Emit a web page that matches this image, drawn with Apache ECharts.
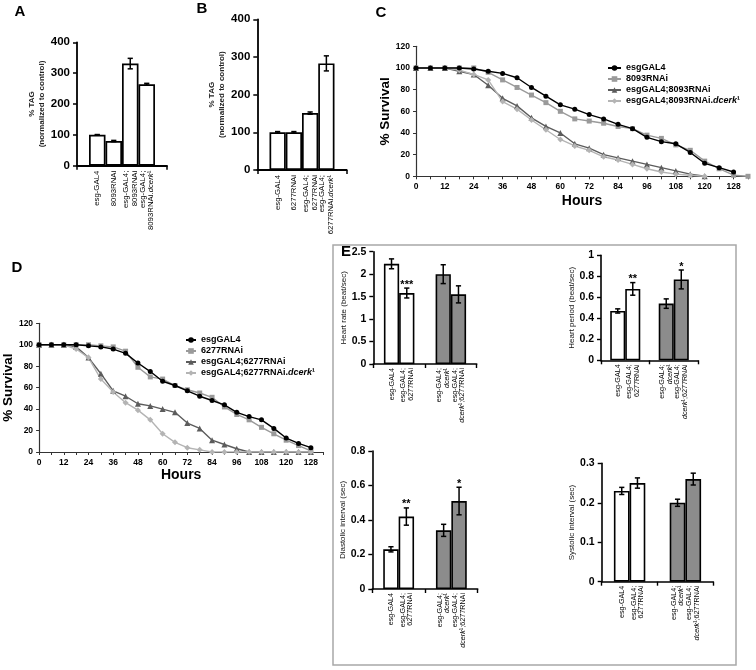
<!DOCTYPE html>
<html><head><meta charset="utf-8">
<script src="https://cdn.jsdelivr.net/npm/echarts@6/dist/echarts.min.js"></script>
<style>html,body{margin:0;padding:0;background:#fff}#c{width:756px;height:670px}</style>
</head><body><div id="c"></div><script>
const FONT = '"Liberation Sans", Arial, Helvetica, sans-serif';

// ---------- Panel A / B : % TAG ----------
const tagLabelsA = ['esg-GAL4', '8093RNAi', 'esg-GAL4;\n8093RNAi', 'esg-GAL4;\n8093RNAi.{i|dcerk}¹'];
const tagValuesA = [100, 80, 331, 264];
const tagErrorsA = [1, 2, 17, 3];
const tagLabelsB = ['esg-GAL4', '6277RNAi', 'esg-GAL4;\n6277RNAi', 'esg-GAL4;\n6277RNAi.{i|dcerk}¹'];
const tagValuesB = [100, 100, 151, 283];
const tagErrorsB = [2, 2, 3, 20];
const tagYTicks = [0, 100, 200, 300, 400];

// ---------- Panel C / D : survival ----------
const survivalHours = ['0','6','12','18','24','30','36','42','48','54','60','66','72','78','84','90','96','102','108','114','120','124','128','132'];
const survivalYTicks = [0, 20, 40, 60, 80, 100, 120];
const survivalNamesC = ['esgGAL4', '8093RNAi', 'esgGAL4;8093RNAi', 'esgGAL4;8093RNAi.dcerk¹'];
const cEsgGAL4   = [100,100,100,100,99,97,95,91,82,74,66,62,57,53,48,44,36,32,30,22,12,8,4,null];
const c8093RNAi  = [100,100,100,100,100,96,89,82,75,68,60,53,51,49,46,44,38,35,29,24,14,7,1,0];
const cEsg8093   = [100,100,100,97,94,84,72,65,54,46,40,30,26,20,17,14,11,8,5,2,0,null,null,null];
const cEsg8093Dc = [100,100,100,98,94,89,69,62,52,43,34,28,24,18,15,11,7,4,2,1,0,null,null,null];
const survivalNamesD = ['esgGAL4', '6277RNAi', 'esgGAL4;6277RNAi', 'esgGAL4;6277RNAi.dcerk¹'];
const dEsgGAL4   = [100,100,100,100,99,98,96,92,83,75,66,62,57,52,48,44,37,33,30,22,13,8,4,null];
const d6277RNAi  = [100,100,100,100,100,99,98,94,79,70,68,62,58,55,51,42,35,30,23,17,11,6,1,null];
const dEsg6277   = [100,100,100,98,88,73,57,52,45,43,40,37,27,22,11,7,3,0,0,0,0,0,0,null];
const dEsg6277Dc = [100,100,100,96,88,68,56,46,39,30,17,9,4,2,0,0,0,0,0,0,0,0,0,null];

// ---------- Panel E : heart ----------
const heartLabels = ['esg-GAL4', 'esg-GAL4;\n6277RNAi', 'esg-GAL4;\n{i|dcerk}¹', 'esg-GAL4;\n{i|dcerk}¹;6277RNAi'];
const heartRate = [2.23, 1.58, 2.0, 1.55];
const heartRateErr = [0.11, 0.11, 0.21, 0.19];
const heartRateSig = ['', '***', '', ''];
const heartRateTicks = [0, 0.5, 1, 1.5, 2, 2.5];
const heartPeriod = [0.47, 0.68, 0.54, 0.77];
const heartPeriodErr = [0.02, 0.06, 0.045, 0.09];
const heartPeriodSig = ['', '**', '', '*'];
const heartPeriodTicks = [0, 0.2, 0.4, 0.6, 0.8, 1];
const diastolic = [0.23, 0.42, 0.34, 0.51];
const diastolicErr = [0.015, 0.05, 0.035, 0.08];
const diastolicSig = ['', '**', '', '*'];
const diastolicTicks = [0, 0.2, 0.4, 0.6, 0.8];
const systolic = [0.23, 0.25, 0.20, 0.26];
const systolicErr = [0.009, 0.013, 0.009, 0.015];
const systolicSig = ['', '', '', ''];
const systolicTicks = [0, 0.1, 0.2, 0.3];

// ---------- build ----------
const grids = [], xAxes = [], yAxes = [], series = [], legends = [];
const BLACK = '#000';
const groupFill = ['#ffffff', '#8c8c8c'];

function errorSeries(gi, nPerCat, gapRatio, items, lw) {
  return {
    type: 'custom', xAxisIndex: gi, yAxisIndex: gi, silent: true, z: 5, animation: false,
    data: items.map(it => [it[0], it[1], it[2] - it[3], it[2] + it[3]]),
    renderItem(params, api) {
      const cat = api.value(0), pos = api.value(1);
      const band = api.size([1, 0])[0];
      const bw = band * (1 - gapRatio) / nPerCat;
      const x = api.coord([cat, 0])[0] + (pos - (nPerCat - 1) / 2) * bw;
      const y1 = api.coord([cat, api.value(2)])[1];
      const y2 = api.coord([cat, api.value(3)])[1];
      const cap = 2.6;
      const st = { stroke: BLACK, lineWidth: lw || 1.4 };
      const ch = [
        { type: 'line', shape: { x1: x, y1: y1, x2: x, y2: y2 }, style: st },
        { type: 'line', shape: { x1: x - cap, y1: y1, x2: x + cap, y2: y1 }, style: st },
        { type: 'line', shape: { x1: x - cap, y1: y2, x2: x + cap, y2: y2 }, style: st }
      ];
      const sig = items[params.dataIndex][4];
      if (sig) ch.push({ type: 'text', x: x, y: y2 + 2, style: { text: sig, font: 'bold 11px ' + FONT, fill: BLACK, align: 'center', verticalAlign: 'bottom', textAlign: 'center', textVerticalAlign: 'bottom' } });
      return { type: 'group', children: ch };
    }
  };
}

function barLabel(fmt, size, lh, dist) {
  return {
    show: true, position: 'bottom', distance: dist, rotate: 90, align: 'right', verticalAlign: 'middle',
    formatter: fmt, fontFamily: FONT, fontSize: size, lineHeight: lh, color: BLACK,
    rich: { i: { fontStyle: 'italic', fontFamily: FONT, fontSize: size, lineHeight: lh, color: BLACK } }
  };
}

function tagPanel(box, labels, values, errors, gapRatio) {
  const gi = grids.length;
  grids.push({ left: box[0], top: box[1], width: box[2], height: box[3] });
  xAxes.push({ gridIndex: gi, type: 'category', data: ['all'],
    axisLine: { lineStyle: { color: BLACK, width: 1.8 } },
    axisTick: { show: true, length: 4, lineStyle: { color: BLACK, width: 1.5 } },
    axisLabel: { show: false } });
  yAxes.push({ gridIndex: gi, type: 'value', min: tagYTicks[0], max: tagYTicks[tagYTicks.length - 1], interval: tagYTicks[1] - tagYTicks[0],
    axisLine: { show: true, lineStyle: { color: BLACK, width: 1.8 } },
    axisTick: { show: true, length: 4, lineStyle: { color: BLACK, width: 1.5 } },
    axisLabel: { fontFamily: FONT, fontWeight: 'bold', fontSize: 11.5, color: BLACK, margin: 7 },
    splitLine: { show: false },
    name: '% TAG\n(normalized to control)', nameLocation: 'middle', nameGap: 23,
    nameTextStyle: { fontFamily: FONT, fontWeight: 'bold', fontSize: 8, lineHeight: 10, color: '#222' } });
  values.forEach((v, i) => {
    series.push({ type: 'bar', xAxisIndex: gi, yAxisIndex: gi, data: [v], barGap: '0%', barCategoryGap: (gapRatio * 100) + '%',
      itemStyle: { color: '#fff', borderColor: BLACK, borderWidth: 1.7 }, silent: true, animation: false,
      label: barLabel(labels[i], 7.8, 8.5, 5) });
  });
  series.push(errorSeries(gi, values.length, gapRatio, values.map((v, i) => [0, i, v, errors[i], '']), 1.5));
}

function survivalPanel(box, names, datasets, legendPos, yGap, xGap) {
  const gi = grids.length;
  grids.push({ left: box[0], top: box[1], width: box[2], height: box[3] });
  xAxes.push({ gridIndex: gi, type: 'category', data: survivalHours, boundaryGap: false,
    axisLine: { lineStyle: { color: '#333', width: 1.2 } },
    axisTick: { show: true, interval: 0, length: 3, lineStyle: { color: '#333', width: 1 } },
    axisLabel: { interval: 1, fontFamily: FONT, fontWeight: 'bold', fontSize: 8.5, color: BLACK, margin: 6 },
    name: 'Hours', nameLocation: 'middle', nameGap: xGap,
    nameTextStyle: { fontFamily: FONT, fontWeight: 'bold', fontSize: 14, color: BLACK } });
  yAxes.push({ gridIndex: gi, type: 'value', min: survivalYTicks[0], max: survivalYTicks[survivalYTicks.length - 1], interval: survivalYTicks[1] - survivalYTicks[0],
    axisLine: { show: true, lineStyle: { color: '#333', width: 1.2 } },
    axisTick: { show: true, length: 3, lineStyle: { color: '#333', width: 1 } },
    axisLabel: { fontFamily: FONT, fontWeight: 'bold', fontSize: 8.5, color: BLACK, margin: 6 },
    splitLine: { show: false },
    name: '% Survival', nameLocation: 'middle', nameGap: yGap,
    nameTextStyle: { fontFamily: FONT, fontWeight: 'bold', fontSize: 13.5, color: BLACK } });
  const styles = [
    { color: '#000000', symbol: 'circle', size: 5 },
    { color: '#9a9a9a', symbol: 'rect', size: 5 },
    { color: '#5c5c5c', symbol: 'triangle', size: 6 },
    { color: '#b4b4b4', symbol: 'diamond', size: 6 }
  ];
  datasets.forEach((d, k) => {
    const s = styles[k];
    series.push({ type: 'line', name: names[k], xAxisIndex: gi, yAxisIndex: gi, data: d,
      symbol: s.symbol, symbolSize: s.size, showSymbol: true, showAllSymbol: true,
      itemStyle: { color: s.color }, lineStyle: { color: s.color, width: 1.4 },
      z: 3 + (k === 0 ? 1 : 0), silent: true, animation: false });
  });
  legends.push({ orient: 'vertical', left: legendPos[0], top: legendPos[1], itemWidth: legendPos[2], itemHeight: 7, itemGap: 0,
    padding: 0, selectedMode: false, data: names,
    formatter: n => n.replace('dcerk', '{i|dcerk}'),
    textStyle: { fontFamily: FONT, fontWeight: 'bold', fontSize: 9, lineHeight: 11, color: BLACK,
      rich: { i: { fontFamily: FONT, fontWeight: 'bold', fontStyle: 'italic', fontSize: 9, lineHeight: 11, color: BLACK } } } });
}

function heartPanel(box, ticks, name, vals, errs, sigs, gapRatio, yGap) {
  const gi = grids.length;
  grids.push({ left: box[0], top: box[1], width: box[2], height: box[3] });
  xAxes.push({ gridIndex: gi, type: 'category', data: ['control', 'dcerk'],
    axisLine: { lineStyle: { color: BLACK, width: 1.6 } },
    axisTick: { show: true, interval: 0, length: 4, lineStyle: { color: BLACK, width: 1.4 } },
    axisLabel: { show: false } });
  yAxes.push({ gridIndex: gi, type: 'value', min: ticks[0], max: ticks[ticks.length - 1], interval: ticks[1] - ticks[0],
    axisLine: { show: true, lineStyle: { color: BLACK, width: 1.6 } },
    axisTick: { show: true, length: 4, lineStyle: { color: BLACK, width: 1.4 } },
    axisLabel: { fontFamily: FONT, fontWeight: 'bold', fontSize: 10.5, color: BLACK, margin: 7,
      formatter: v => String(Math.round(v * 100) / 100) },
    splitLine: { show: false },
    name: name, nameLocation: 'middle', nameGap: yGap,
    nameTextStyle: { fontFamily: FONT, fontSize: 8, color: '#111' } });
  for (let pos = 0; pos < 2; pos++) {
    series.push({ type: 'bar', xAxisIndex: gi, yAxisIndex: gi, barGap: '0%', barCategoryGap: (gapRatio * 100) + '%',
      data: [0, 1].map(g => ({ value: vals[g * 2 + pos], itemStyle: { color: groupFill[g] } })),
      itemStyle: { borderColor: BLACK, borderWidth: 1.6 }, silent: true, animation: false,
      label: barLabel(p => heartLabels[p.dataIndex * 2 + pos], 7.2, 7.6, 4) });
  }
  series.push(errorSeries(gi, 2, gapRatio, vals.map((v, k) => [Math.floor(k / 2), k % 2, v, errs[k], sigs[k]]), 1.5));
}

tagPanel([77, 42.3, 90, 123.4], tagLabelsA, tagValuesA, tagErrorsA, 0.267);
tagPanel([257.3, 19.3, 89.4, 150.7], tagLabelsB, tagValuesB, tagErrorsB, 0.273);
survivalPanel([416, 46.3, 332, 130], survivalNamesC, [cEsgGAL4, c8093RNAi, cEsg8093, cEsg8093Dc], [607, 62.5, 13], 16, 18);
survivalPanel([30, 323.3, 293.25, 128.7], survivalNamesD, [dEsgGAL4, d6277RNAi, dEsg6277, dEsg6277Dc], [185, 334.5, 10], 14, 16);
heartPanel([373.3, 251.7, 103.4, 112.3], heartRateTicks, 'Heart rate (beat/sec)', heartRate, heartRateErr, heartRateSig, 0.41, 22);
heartPanel([601, 255.3, 97, 105], heartPeriodTicks, 'Heart period (beat/sec)', heartPeriod, heartPeriodErr, heartPeriodSig, 0.38, 22);
heartPanel([372.3, 451, 105.4, 138], diastolicTicks, 'Diastolic interval (sec)', diastolic, diastolicErr, diastolicSig, 0.415, 21);
heartPanel([601.7, 463.3, 111.6, 118.4], systolicTicks, 'Systolic interval (sec)', systolic, systolicErr, systolicSig, 0.437, 21);

const panelLetters = [['A', 20, 12], ['B', 202, 9], ['C', 381, 13], ['D', 17, 268], ['E', 346, 252]];
const graphic = [{ type: 'rect', shape: { x: 333, y: 245, width: 403, height: 420 }, style: { fill: 'none', stroke: '#a8a8a8', lineWidth: 1.5 }, silent: true, z: -10 }]
  .concat(panelLetters.map(p => ({ type: 'text', x: p[1], y: p[2], silent: true,
    style: { text: p[0], font: 'bold 15px ' + FONT, fill: BLACK, align: 'center', verticalAlign: 'middle', textAlign: 'center', textVerticalAlign: 'middle' } })));

const chart = echarts.init(document.getElementById('c'), null, { renderer: 'canvas' });
chart.setOption({
  animation: false, backgroundColor: '#fff',
  grid: grids, xAxis: xAxes, yAxis: yAxes, series: series, legend: legends, graphic: graphic
});
</script></body></html>
